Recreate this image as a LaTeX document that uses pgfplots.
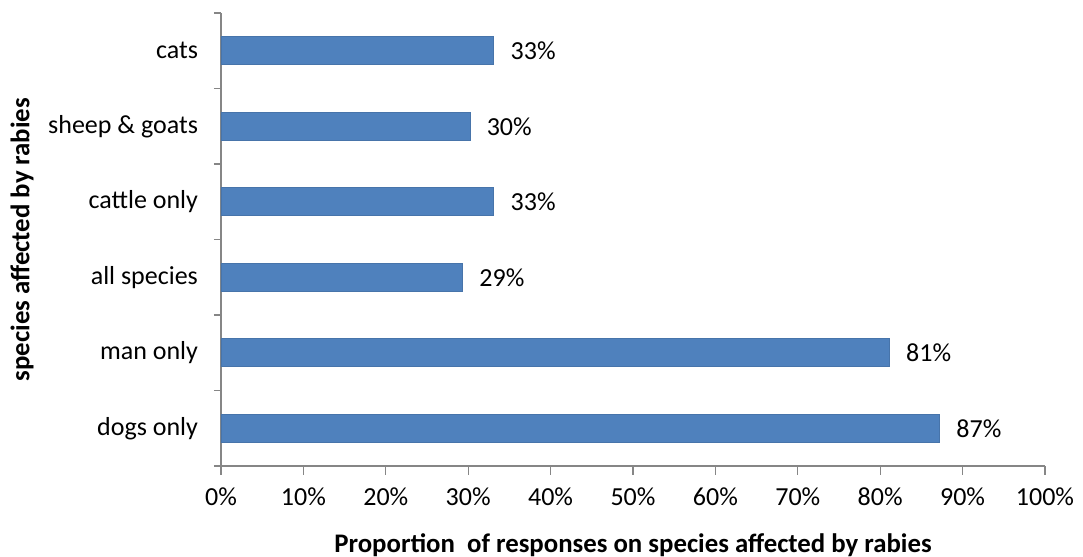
\documentclass[border=0pt]{standalone}
\usepackage{fontspec}
\setmainfont{Carlito}
\usepackage{pgfplots}
\pgfplotsset{compat=1.18}
\definecolor{barblue}{HTML}{4F81BD}
\definecolor{axgray}{HTML}{868686}
\begin{document}
\begin{tikzpicture}
\useasboundingbox (-110.5pt,-45.5pt) rectangle (431pt,233pt);
\begin{axis}[
    scale only axis,
    width=412pt, height=226.5pt,
    xbar,
    bar width=14pt,
    xmin=0, xmax=100,
    ymin=-0.5, ymax=5.5,
    axis x line*=bottom,
    axis y line*=left,
    axis line style={axgray, line width=0.6pt},
    xtick={0,10,...,100},
    xticklabel={\pgfmathprintnumber{\tick}\%},
    /pgf/number format/assume math mode=true,
    ytick={0,1,2,3,4,5},
    yticklabels={dogs only, man only, all species, cattle only, sheep \& goats, cats\ },
    minor ytick={-0.5,0.5,...,5.5},
    major tick length=4.5pt,
    minor tick length=3.5pt,
    tick style={axgray, line width=0.6pt},
    major y tick style={draw=none},
    tick align=outside,
    tick label style={font=\fontsize{13}{15}\selectfont},
    xticklabel style={anchor=center, yshift=-11pt},
    yticklabel style={anchor=east, xshift=-3.5pt},
    every axis x label/.style={at={(rel axis cs:0.5,0)}, yshift=-39.5pt, anchor=center},
    every axis y label/.style={at={(rel axis cs:0,0.5)}, xshift=-99.5pt, rotate=90, anchor=center},
    label style={font=\bfseries\fontsize{13.4}{15}\selectfont},
    xlabel={Proportion\ \ of responses on species affected by rabies},
    ylabel={species affected by rabies},
    point meta=explicit symbolic,
    nodes near coords,
    nodes near coords style={anchor=west, xshift=5pt, font=\fontsize{13}{15}\selectfont},
]
\addplot[fill=barblue, draw=barblue!90!black, line width=0.3pt]
    coordinates {
    (87.2,0) [87\%]
    (81.1,1) [81\%]
    (29.3,2) [29\%]
    (33.1,3) [33\%]
    (30.2,4) [30\%]
    (33.1,5) [33\%]
    };
\end{axis}
\end{tikzpicture}
\end{document}
